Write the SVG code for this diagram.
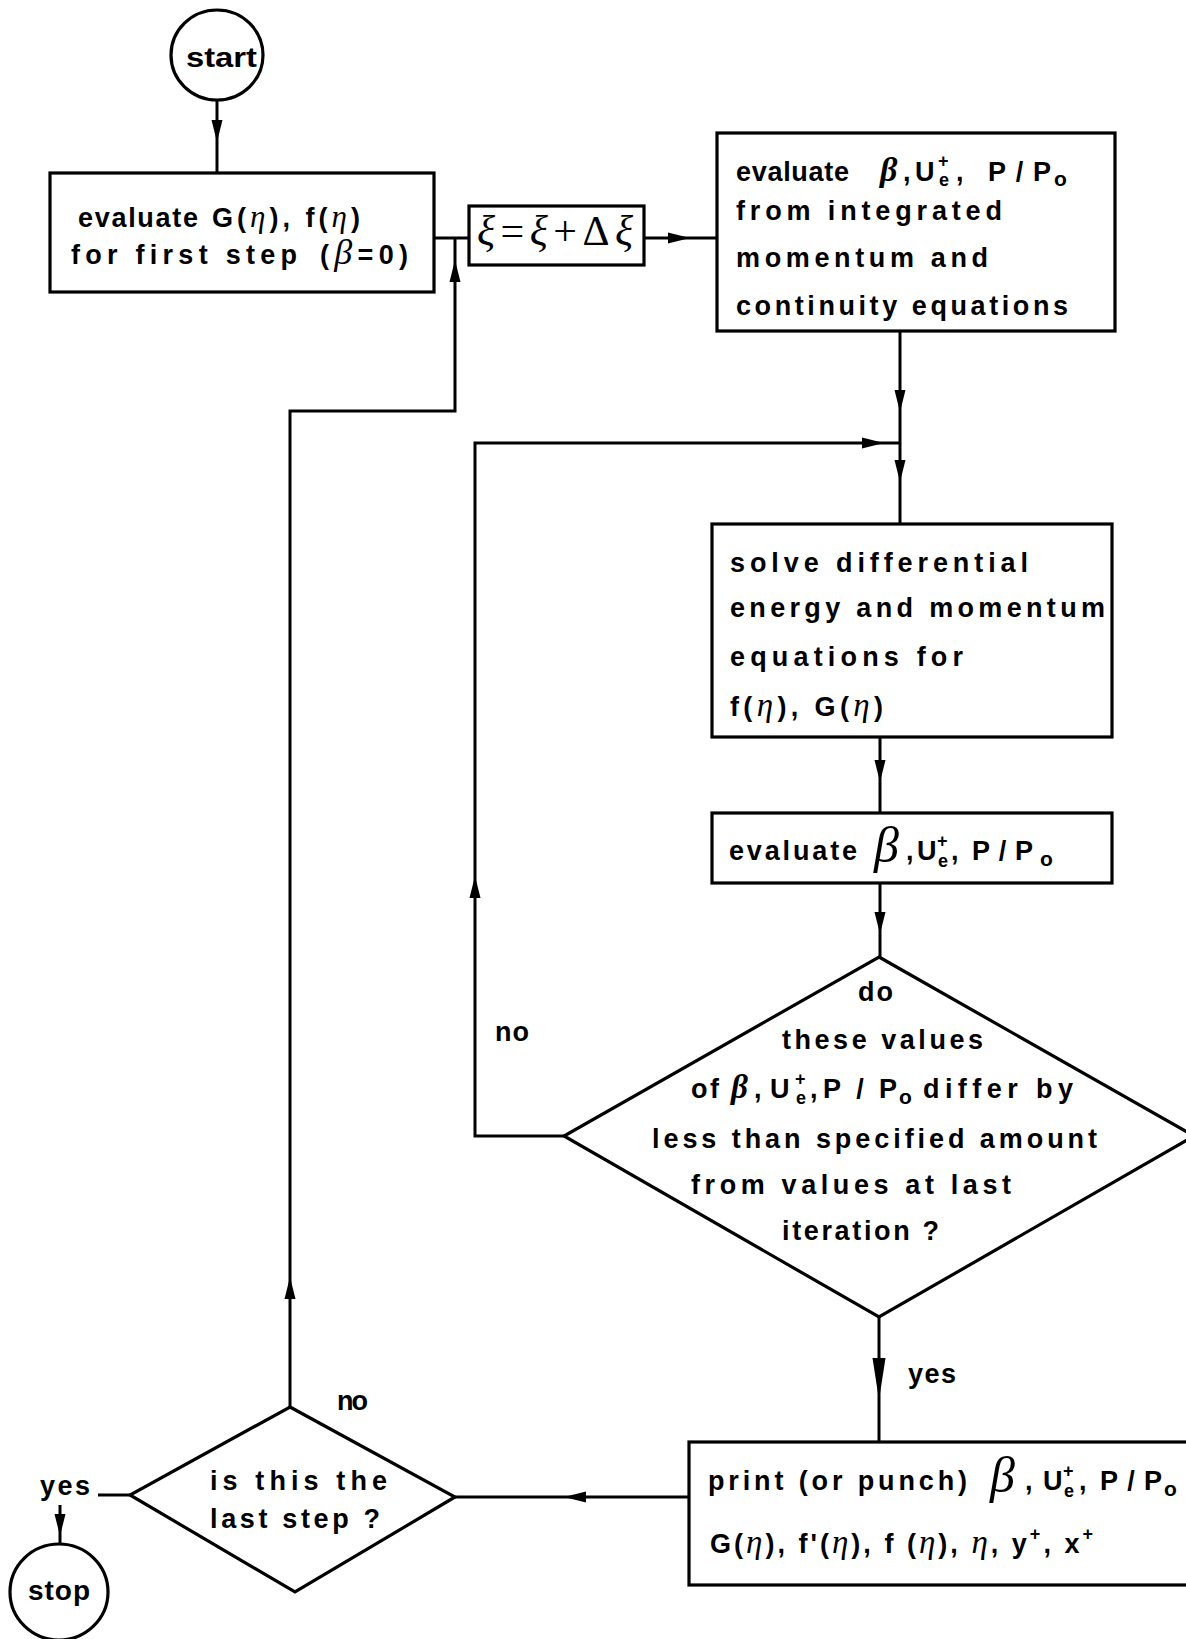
<svg xmlns="http://www.w3.org/2000/svg" xmlns:xlink="http://www.w3.org/1999/xlink" width="1186" height="1639" viewBox="0 0 1186 1639">
<style>
.box{fill:none;stroke:#000;stroke-width:3.2}
.ln{fill:none;stroke:#000;stroke-width:3}
.t{font-family:"Liberation Sans",Arial,sans-serif;font-weight:bold;font-size:27px;fill:#000}
.g{font-family:"Liberation Serif","Times New Roman",serif;font-style:italic;font-weight:normal}
.gb{font-family:"Liberation Serif","Times New Roman",serif;font-style:italic;font-weight:bold}
.s{font-size:18px}
.o{font-size:21px}
</style>
<defs>
<path id="ah" d="M0,0 L-5.5,-22 L5.5,-22 Z" fill="#000"/>
</defs>
<rect width="1186" height="1639" fill="#fff"/>

<g id="connectors">
<line class="ln" x1="217" y1="100" x2="217" y2="173"/>
<use href="#ah" transform="translate(217,142)"/>
<line class="ln" x1="434" y1="238" x2="469" y2="238"/>
<line class="ln" x1="644" y1="238" x2="717" y2="238"/>
<use href="#ah" transform="translate(690,238) rotate(-90)"/>
<line class="ln" x1="900" y1="331" x2="900" y2="524"/>
<use href="#ah" transform="translate(900,412)"/>
<use href="#ah" transform="translate(900,482)"/>
<polyline class="ln" points="564,1136 475,1136 475,443 900,443"/>
<use href="#ah" transform="translate(884,443) rotate(-90)"/>
<use href="#ah" transform="translate(475,876) rotate(180)"/>
<line class="ln" x1="880" y1="737" x2="880" y2="813"/>
<use href="#ah" transform="translate(880,782)"/>
<line class="ln" x1="880" y1="883" x2="880" y2="957"/>
<use href="#ah" transform="translate(880,934)"/>
<line class="ln" x1="879" y1="1317" x2="879" y2="1442"/>
<path d="M879,1400 L872.5,1358 L885.5,1358 Z" fill="#000"/>
<line class="ln" x1="689" y1="1497" x2="455" y2="1497"/>
<use href="#ah" transform="translate(564,1497) rotate(90)"/>
<polyline class="ln" points="290,1407 290,411 455,411 455,238"/>
<use href="#ah" transform="translate(290,1277) rotate(180)"/>
<use href="#ah" transform="translate(455,260) rotate(180)"/>
<line class="ln" x1="98" y1="1495" x2="130" y2="1495"/>
<line class="ln" x1="60" y1="1505" x2="60" y2="1543"/>
<use href="#ah" transform="translate(60,1536)"/>
</g>

<g id="start">
<ellipse class="box" cx="217" cy="55" rx="46" ry="45"/>
<text class="t" x="186" y="67" textLength="71" style="font-size:28px" lengthAdjust="spacingAndGlyphs">start</text>
</g>

<g id="box1">
<rect class="box" x="50" y="173" width="384" height="119"/>
<text class="t" x="78" y="227" textLength="120">evaluate</text>
<text class="t" x="212" y="227" textLength="148">G(<tspan class="g" font-size="31">η</tspan>), f(<tspan class="g" font-size="31">η</tspan>)</text>
<text class="t" x="71" y="264" textLength="226">for  first  step</text>
<text class="t" x="320" y="264" textLength="88">(<tspan class="g" font-size="36">β</tspan>=0)</text>
</g>

<g id="xi">
<rect class="box" x="469" y="206" width="175" height="59"/>
<text x="555" y="245" text-anchor="middle" font-family="Liberation Serif,serif" font-size="42" textLength="156"><tspan font-style="italic">ξ</tspan>=<tspan font-style="italic">ξ</tspan>+Δ<tspan font-style="italic">ξ</tspan></text>
</g>

<g id="box2">
<rect class="box" x="717" y="133" width="398" height="198"/>
<text class="t" x="736" y="181" textLength="113">evaluate</text>
<text class="t gb" x="880" y="181" style="font-size:34px">β</text>
<text class="t" x="903" y="181">,</text>
<text class="t" x="915" y="181">U</text>
<text class="t s" x="938" y="167">+</text>
<text class="t s" x="939" y="186">e</text>
<text class="t" x="956" y="181">,</text>
<text class="t" x="988" y="181" textLength="63">P/P</text>
<text class="t o" x="1054" y="186">o</text>
<text class="t" x="736" y="220" textLength="266">from  integrated</text>
<text class="t" x="736" y="267" textLength="252">momentum    and</text>
<text class="t" x="736" y="315" textLength="332">continuity   equations</text>
</g>

<g id="box3">
<rect class="box" x="712" y="524" width="400" height="213"/>
<text class="t" x="730" y="572" textLength="298">solve   differential</text>
<text class="t" x="730" y="617" textLength="375">energy  and  momentum</text>
<text class="t" x="730" y="666" textLength="233">equations     for</text>
<text class="t" x="730" y="716" textLength="153">f(<tspan class="g" font-size="33">η</tspan>), G(<tspan class="g" font-size="33">η</tspan>)</text>
</g>

<g id="box4">
<rect class="box" x="712" y="813" width="400" height="70"/>
<text class="t" x="729" y="860" textLength="128">evaluate</text>
<text class="t g" x="874" y="862" style="font-size:50px">β</text>
<text class="t" x="906" y="860">,</text>
<text class="t" x="917" y="860">U</text>
<text class="t s" x="937" y="847">+</text>
<text class="t s" x="938" y="867">e</text>
<text class="t" x="951" y="860">,</text>
<text class="t" x="972" y="860" textLength="61">P/P</text>
<text class="t o" x="1040" y="866">o</text>
</g>

<g id="diamond1">
<polygon class="box" points="879,957 1194,1136 879,1317 564,1136"/>
<text class="t" x="858" y="1001" textLength="35">do</text>
<text class="t" x="782" y="1049" textLength="201">these   values</text>
<text class="t" x="691" y="1098" textLength="28">of</text>
<text class="t gb" x="731" y="1098" style="font-size:33px">β</text>
<text class="t" x="754" y="1098">,</text>
<text class="t" x="770" y="1098">U</text>
<text class="t s" x="795" y="1085">+</text>
<text class="t s" x="796" y="1104">e</text>
<text class="t" x="810" y="1098">,</text>
<text class="t" x="823" y="1098" textLength="74">P/P</text>
<text class="t o" x="899" y="1104">o</text>
<text class="t" x="923" y="1098" textLength="150">differ   by</text>
<text class="t" x="652" y="1148" textLength="445">less  than  specified  amount</text>
<text class="t" x="691" y="1194" textLength="320">from  values  at  last</text>
<text class="t" x="782" y="1240" textLength="157">iteration ?</text>
</g>

<text class="t" x="495" y="1041" textLength="34">no</text>

<g id="box5">
<rect class="box" x="689" y="1442" width="520" height="143"/>
<text class="t" x="708" y="1490" textLength="259">print  (or  punch)</text>
<text class="t g" x="990" y="1492" style="font-size:50px">β</text>
<text class="t" x="1025" y="1490">,</text>
<text class="t" x="1043" y="1490">U</text>
<text class="t s" x="1063" y="1477">+</text>
<text class="t s" x="1064" y="1497">e</text>
<text class="t" x="1079" y="1490">,</text>
<text class="t" x="1100" y="1490" textLength="62">P/P</text>
<text class="t o" x="1164" y="1496">o</text>
<text class="t" x="710" y="1553" textLength="383">G(<tspan class="g" font-size="33">η</tspan>), f'(<tspan class="g" font-size="33">η</tspan>), f (<tspan class="g" font-size="33">η</tspan>), <tspan class="g" font-size="33">η</tspan>, y<tspan font-size="18" dy="-13">+</tspan><tspan dy="13">, x</tspan><tspan font-size="18" dy="-13">+</tspan></text>
</g>

<text class="t" x="908" y="1383" textLength="48">yes</text>

<g id="diamond2">
<polygon class="box" points="290,1407 455,1497 295,1592 130,1495"/>
<text class="t" x="210" y="1490" textLength="177">is  this  the</text>
<text class="t" x="210" y="1528" textLength="170">last  step ?</text>
</g>

<text class="t" x="337" y="1410" textLength="31">no</text>
<text class="t" x="40" y="1495" textLength="50">yes</text>

<g id="stop">
<ellipse class="box" cx="59" cy="1592" rx="49" ry="48"/>
<text class="t" x="28" y="1600" textLength="62" style="font-size:28px">stop</text>
</g>
</svg>
